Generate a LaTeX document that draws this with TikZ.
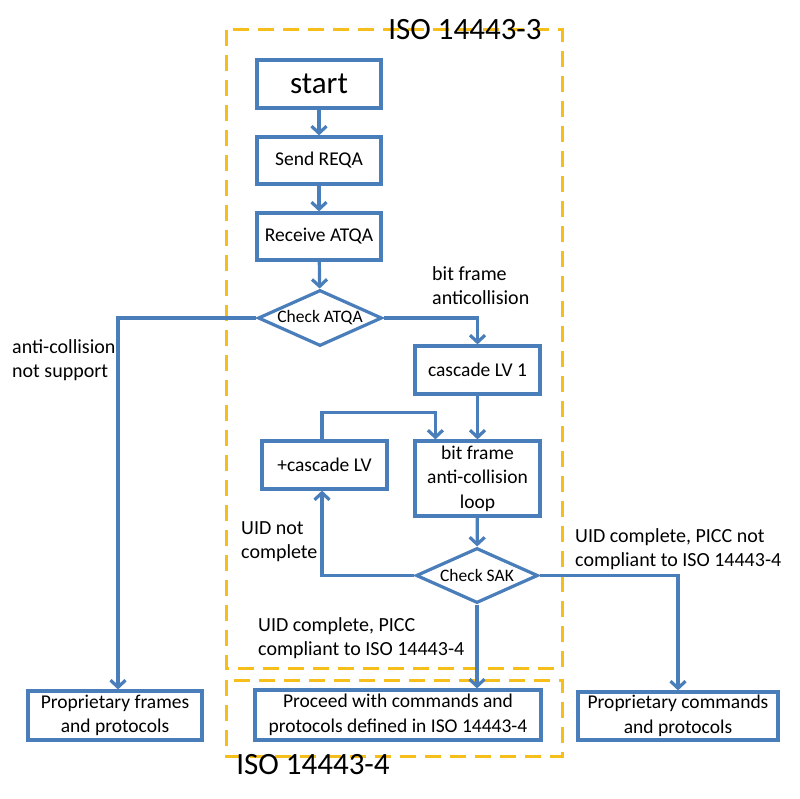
\documentclass[tikz,border=0pt]{standalone}
\usepackage{fontspec}
\setmainfont{Carlito}
\usetikzlibrary{arrows.meta,shapes.geometric}
\definecolor{fblue}{HTML}{4A7EBB}
\definecolor{fgold}{HTML}{F6BE1A}
\tikzset{
  box/.style={draw=fblue, line width=3.2pt, fill=white, align=center, inner sep=2pt,
    font=\fontsize{19.5}{24.5}\selectfont},
  dec/.style={draw=fblue, line width=3.2pt, fill=white, shape=diamond, aspect=2.2, inner sep=0pt,
    font=\fontsize{17.5}{20}\selectfont},
  arr/.style={draw=fblue, line width=3.2pt, -{Straight Barb[length=7pt,width=15pt,line width=3.2pt]}},
  lab/.style={align=left, anchor=north west, inner sep=0pt, font=\fontsize{20}{24.5}\selectfont},
  zone/.style={draw=fgold, line width=3pt, dash pattern=on 16pt off 9pt},
  zlab/.style={inner sep=0pt, font=\fontsize{31}{33}\selectfont}
}
\begin{document}
\begin{tikzpicture}[x=1pt,y=-1pt]
\useasboundingbox (0,0) rectangle (800,799);
\fill[white] (0,0) rectangle (800,799);
% zones
\draw[zone] (226,30) rectangle (562,668);
\draw[zone] (226,680) rectangle (562,756);
\node[zlab] (z3) at (465,30) {ISO 14443-3};
\node[zlab] (z4) at (313,765) {ISO 14443-4};
% nodes
\node[box, minimum width=124pt, minimum height=48pt, font=\fontsize{31}{33}\selectfont] (start) at (319,84) {start};
\node[box, minimum width=124pt, minimum height=47pt] (reqa) at (319,160.5) {Send REQA};
\node[box, minimum width=124pt, minimum height=47pt] (ratqa) at (319,236.5) {Receive ATQA};
\node[dec, minimum width=124pt, minimum height=56pt] (catqa) at (320,318) {Check ATQA};
\node[box, minimum width=125pt, minimum height=48pt] (cas1) at (477.5,370) {cascade LV 1};
\node[box, minimum width=125pt, minimum height=75pt] (bitf) at (477.5,478.5) {bit frame\\anti-collision\\loop};
\node[box, minimum width=125pt, minimum height=48pt] (plus) at (324.5,465) {+cascade LV};
\node[dec, minimum width=122pt, minimum height=55pt] (csak) at (477,575.5) {Check SAK};
\node[box, minimum width=174pt, minimum height=49pt] (propf) at (115,715.5) {Proprietary frames\\and protocols};
\node[box, minimum width=286pt, minimum height=50pt] (proc) at (398,715) {Proceed with commands and\\protocols defined in ISO 14443-4};
\node[box, minimum width=200pt, minimum height=48pt] (propc) at (678,716) {Proprietary commands\\and protocols};
% labels
\node[lab] (l1) at (432,266) {bit frame\\anticollision};
\node[lab] (l2) at (12,339) {anti-collision\\not support};
\node[lab] (l3) at (241,521) {UID not\\complete};
\node[lab] (l4) at (575,528) {UID complete, PICC not\\compliant to ISO 14443-4};
\node[lab] (l5) at (258,617) {UID complete, PICC\\compliant to ISO 14443-4};
% connectors
\draw[arr] (start) -- (reqa);
\draw[arr] (reqa) -- (ratqa);
\draw[arr] (ratqa) -- (catqa);
\draw[arr] (catqa.west) -| ([xshift=3pt]propf.north);
\draw[arr] (catqa.east) -| (cas1.north);
\draw[arr] (cas1) -- (bitf);
\draw[arr] ([xshift=-2.5pt]plus.north) -- ++(0,-27) -| ([xshift=22pt]bitf.north west);
\draw[arr] (bitf) -- (csak);
\draw[arr] (csak.west) -| ([xshift=-2.5pt]plus.south);
\draw[arr] (csak.east) -| (propc.north);
\draw[arr] (csak.south) -- (csak.south |- proc.north);
\end{tikzpicture}
\end{document}
